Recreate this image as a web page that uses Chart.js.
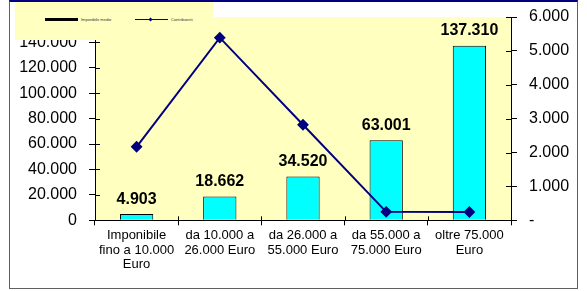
<!DOCTYPE html>
<html>
<head>
<meta charset="utf-8">
<script src="https://cdn.jsdelivr.net/npm/chart.js"></script>
<style>
  html, body { margin: 0; padding: 0; background: #fff; }
  #wrap { position: relative; width: 587px; height: 291px; }
  #frame {
    position: absolute; left: 9px; top: 0; width: 567px; height: 286px;
    border: 1px solid #606060; border-top: 2px solid #000080;
  }
  #legend {
    position: absolute; left: 15px; top: 2px; width: 198px; height: 38px;
    background: #ffffc0; z-index: 2;
    font-family: "Liberation Sans", Arial, sans-serif; font-size: 4px; color: #333;
  }
  .item { position: absolute; top: 15px; height: 6px; }
  .item span { position: absolute; top: 0; white-space: nowrap; line-height: 6px; }
  canvas { position: absolute; left: 0; top: 0; }
</style>
</head>
<body>
<div id="wrap">
  <div id="frame"></div>
  <canvas id="chart" width="587" height="291"></canvas>
  <div id="legend">
    <div class="item" style="left:30px">
      <div style="position:absolute;left:0;top:1px;width:33px;height:3px;background:#000"></div>
      <span style="left:36px">Imponibile medio</span>
    </div>
    <div class="item" style="left:120px">
      <div style="position:absolute;left:0;top:2px;width:33px;height:1px;background:#000080"></div>
      <div style="position:absolute;left:14px;top:0.5px;width:3px;height:3px;background:#000080;transform:rotate(45deg)"></div>
      <span style="left:36px">Contribuenti</span>
    </div>
  </div>
</div>
<script>
// categories and series
const categories = [
  ['Imponibile', 'fino a 10.000', 'Euro'],
  ['da 10.000 a', '26.000 Euro'],
  ['da 26.000 a', '55.000 Euro'],
  ['da 55.000 a', '75.000 Euro'],
  ['oltre 75.000', 'Euro']
];
const imponibileMedio = [4903, 18662, 34520, 63001, 137310];
const contribuenti = [2170, 5390, 2820, 250, 245];

const leftTicks = [0, 20000, 40000, 60000, 80000, 100000, 120000, 140000, 160000];
const rightTicks = [0, 1000, 2000, 3000, 4000, 5000, 6000];

const FONT = '"Liberation Sans", Arial, sans-serif';

// Italian style thousands separator
function fmt(v) {
  return String(Math.round(v)).replace(/\B(?=(\d{3})+(?!\d))/g, '.');
}

// yellow plot background
const plotBg = {
  id: 'plotBg',
  beforeDraw(chart) {
    const { ctx, chartArea: a } = chart;
    ctx.save();
    ctx.fillStyle = '#ffffc0';
    ctx.fillRect(a.left, a.top, a.right - a.left, a.bottom - a.top);
    ctx.restore();
  }
};

// short tick marks that also reach into the plot (Excel "cross" style)
const innerTicks = {
  id: 'innerTicks',
  afterDraw(chart) {
    const { ctx, chartArea: a, scales } = chart;
    ctx.save();
    ctx.strokeStyle = '#000';
    ctx.lineWidth = 1;
    ctx.beginPath();
    scales.y.ticks.forEach(t => {
      const y = Math.round(scales.y.getPixelForValue(t.value)) + 0.5;
      ctx.moveTo(a.left, y); ctx.lineTo(a.left + 5, y);
    });
    scales.y1.ticks.forEach(t => {
      const y = Math.round(scales.y1.getPixelForValue(t.value)) + 0.5;
      ctx.moveTo(a.right - 5, y); ctx.lineTo(a.right, y);
    });
    const step = scales.x.width / categories.length;
    for (let i = 0; i <= categories.length; i++) {
      const x = Math.round(scales.x.left + i * step) + 0.5;
      ctx.moveTo(x, a.bottom - 4); ctx.lineTo(x, a.bottom);
    }
    ctx.stroke();
    ctx.restore();
  }
};

// bold value labels above the bars
const barLabels = {
  id: 'barLabels',
  afterDatasetsDraw(chart) {
    const { ctx } = chart;
    const meta = chart.getDatasetMeta(0);
    ctx.save();
    ctx.font = 'bold 16px ' + FONT;
    ctx.fillStyle = '#000';
    ctx.textAlign = 'center';
    ctx.textBaseline = 'alphabetic';
    meta.data.forEach((bar, i) => {
      ctx.fillText(fmt(imponibileMedio[i]), bar.x, bar.y - 10.5);
    });
    ctx.restore();
  }
};

// no extra room for half of the top tick label: the frame leaves enough space
function noLabelOverflow(axis) {
  axis.paddingTop = 0;
  axis.paddingBottom = 0;
}

new Chart(document.getElementById('chart'), {
  type: 'bar',
  data: {
    labels: categories,
    datasets: [
      {
        type: 'bar',
        label: 'Imponibile medio',
        data: imponibileMedio,
        backgroundColor: '#00ffff',
        borderColor: '#000000',
        borderWidth: 1,
        barPercentage: 0.4,
        categoryPercentage: 1,
        yAxisID: 'y',
        order: 2
      },
      {
        type: 'line',
        label: 'Contribuenti',
        data: contribuenti,
        borderColor: '#000080',
        backgroundColor: '#000080',
        borderWidth: 2,
        pointStyle: 'rectRot',
        pointRadius: 4.5,
        tension: 0,
        yAxisID: 'y1',
        order: 1
      }
    ]
  },
  options: {
    responsive: false,
    animation: false,
    layout: { padding: { left: 0, right: 0, top: 17, bottom: 16 } },
    plugins: {
      legend: { display: false },
      tooltip: { enabled: false }
    },
    scales: {
      x: {
        grid: { display: true, drawOnChartArea: false, offset: true, color: '#000', tickLength: 5 },
        border: { color: '#000' },
        ticks: { color: '#000', font: { family: FONT, size: 13, lineHeight: 1.12 }, maxRotation: 0, autoSkip: false, padding: 3 }
      },
      y: {
        position: 'left',
        min: 0,
        max: 160000,
        afterBuildTicks(axis) { axis.ticks = leftTicks.map(v => ({ value: v })); },
        afterFit(axis) { axis.width = 95; noLabelOverflow(axis); },
        grid: { drawOnChartArea: false, color: '#000', tickLength: 6 },
        border: { color: '#000' },
        ticks: { color: '#000', font: { family: FONT, size: 16 }, padding: 12, callback: v => fmt(v) }
      },
      y1: {
        position: 'right',
        min: 0,
        max: 6000,
        afterBuildTicks(axis) { axis.ticks = rightTicks.map(v => ({ value: v })); },
        afterFit(axis) { axis.width = 76; noLabelOverflow(axis); },
        grid: { drawOnChartArea: false, color: '#000', tickLength: 6 },
        border: { color: '#000' },
        ticks: { color: '#000', font: { family: FONT, size: 16 }, padding: 12, callback: v => v === 0 ? '-' : fmt(v) }
      }
    }
  },
  plugins: [plotBg, innerTicks, barLabels]
});
</script>
</body>
</html>
